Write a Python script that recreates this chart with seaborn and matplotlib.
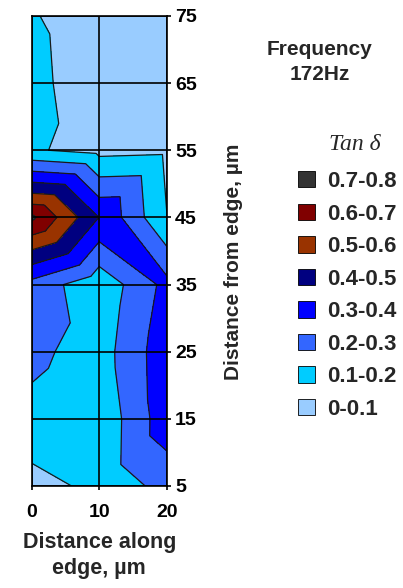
import numpy as np
import pandas as pd
import matplotlib
matplotlib.use("Agg")
import matplotlib.pyplot as plt
import matplotlib.tri as mtri
from matplotlib.patches import Patch
import seaborn as sns

# grid of tan delta readings, one list per x position (read bottom -> top)
x_pos = [0, 10, 20]
y_pos = [5, 15, 25, 35, 45, 55, 65, 75]
tan_x0 = [0.064, 0.170, 0.226, 0.265, 0.720, 0.110, 0.107, 0.1055]
tan_x10 = [0.125, 0.121, 0.151, 0.127, 0.398, 0.070, 0.085, 0.061]
tan_x20 = [0.235, 0.359, 0.364, 0.330, 0.102, 0.080, 0.080, 0.080]

# how each grid cell was split in the original (per row, bottom -> top)
diag_col0 = ["\\", "\\", "\\", "\\", "/", "/", "\\"]
diag_col1 = ["/", "\\", "\\", "\\", "/", "\\", "\\"]

levels = [0, 0.1, 0.2, 0.3, 0.4, 0.5, 0.6, 0.7, 0.8]
band_labels = ["0-0.1", "0.1-0.2", "0.2-0.3", "0.3-0.4", "0.4-0.5", "0.5-0.6", "0.6-0.7", "0.7-0.8"]
band_colors = ["#99CCFF", "#00CCFF", "#3366FF", "#0000FF", "#000080", "#993300", "#800000", "#333333"]

sns.set_theme(style="white")
plt.rcParams["font.family"] = ["Liberation Sans", "DejaVu Sans"]
plt.rcParams["font.weight"] = "bold"

df = pd.DataFrame({
    "x": np.repeat([x_pos], len(y_pos), axis=0).ravel(),
    "y": np.repeat(y_pos, len(x_pos)),
    "tan": np.column_stack([tan_x0, tan_x10, tan_x20]).ravel(),
})

nx = len(x_pos)
def idx(i, j):
    return j * nx + i

triangles = []
for i, diags in enumerate([diag_col0, diag_col1]):
    for j, d in enumerate(diags):
        bl, br, tl, tr = idx(i, j), idx(i + 1, j), idx(i, j + 1), idx(i + 1, j + 1)
        if d == "/":
            triangles += [[bl, br, tr], [bl, tl, tr]]
        else:
            triangles += [[tl, bl, br], [tl, tr, br]]

tri = mtri.Triangulation(df["x"].values, df["y"].values, triangles)

fig = plt.figure(figsize=(4.03, 5.88), dpi=100)
ax = fig.add_axes([31.7 / 403, 102 / 588, 135 / 403, 470 / 588])

pal = sns.color_palette(band_colors)
ax.tricontourf(tri, df["tan"].values, levels=levels, colors=pal)
ax.tricontour(tri, df["tan"].values, levels=levels[1:-1], colors="k", linewidths=0.9)

ax.set_xlim(0, 20)
ax.set_ylim(5, 75)
ax.set_xticks([0, 10, 20])
ax.set_yticks(y_pos)
ax.grid(True, color="black", linewidth=1.2)
ax.set_axisbelow(False)
for s in ax.spines.values():
    s.set_color("black")
    s.set_linewidth(1.2)

ax.yaxis.tick_right()
ax.tick_params(axis="both", which="major", direction="out", length=3, width=1.2,
               colors="black", labelsize=14, bottom=True, right=True, left=False)
ax.tick_params(axis="y", pad=3)
ax.tick_params(axis="x", pad=10)
for lab in ax.get_xticklabels() + ax.get_yticklabels():
    lab.set_fontweight("bold")

ax.set_xlabel("Distance along\nedge, µm", fontsize=15.5, fontweight="bold", labelpad=8,
              linespacing=1.3)
ax.yaxis.set_label_position("right")
ax.set_ylabel("Distance from edge, µm", fontsize=15, fontweight="bold")
ax.yaxis.set_label_coords(1.424, 0.477)

fig.text(320 / 403, 1 - 62 / 588, "Frequency\n172Hz", ha="center", va="center",
         fontsize=15, fontweight="bold", linespacing=1.4)
fig.text(355 / 403, 1 - 144 / 588, "Tan δ", ha="center", va="center",
         family=["Liberation Serif", "DejaVu Serif"], style="italic",
         fontsize=17, fontweight="normal")

handles = [Patch(facecolor=c, edgecolor="black", linewidth=0.6) for c in band_colors[::-1]]
leg = fig.legend(handles, band_labels[::-1], loc="upper left",
                 bbox_to_anchor=(298 / 403, 1 - 171 / 588), frameon=False,
                 borderpad=0, borderaxespad=0,
                 handlelength=0.75, handleheight=0.75, handletextpad=0.55,
                 labelspacing=0.52, fontsize=16)
for t in leg.get_texts():
    t.set_fontweight("bold")

fig.savefig("out.png", dpi=100)
